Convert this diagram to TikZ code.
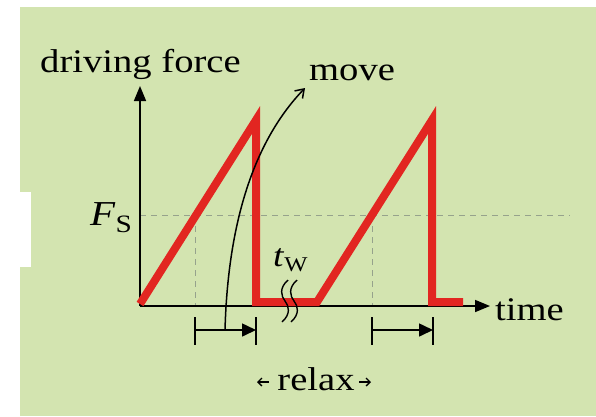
\documentclass[tikz,border=0pt]{standalone}
\usepackage{fontspec}
\usepackage{graphicx}
\setmainfont{Liberation Serif}
\usetikzlibrary{arrows.meta}
\definecolor{bg}{RGB}{211,228,176}
\definecolor{redline}{RGB}{226,38,33}
\definecolor{dashgray}{RGB}{150,162,140}
\newcommand\hs[1]{\scalebox{1.17}[1]{#1}}
\begin{document}
\begin{tikzpicture}[x=1pt,y=-1pt,
  lbl/.style={inner sep=0pt, anchor=base west, font=\fontsize{33}{35}\selectfont},
  axisline/.style={line width=1.6pt, -{Triangle[length=15pt,width=12pt]}},
  sig/.style={redline, line width=8pt, line join=miter, line cap=butt},
  guide/.style={dashgray, line width=1pt, dash pattern=on 6pt off 5pt},
  bar/.style={line width=1.6pt},
  interval/.style={line width=1.6pt, -{Triangle[length=14pt,width=13pt]}},
  movearrow/.style={line width=1.5pt, -{Straight Barb[length=8pt,width=11pt]}},
  smallarrow/.style={line width=1.3pt, -{Straight Barb[length=4pt,width=8pt]}},
  squig/.style={line width=1.4pt}
]
\useasboundingbox (0,0) rectangle (596,416);
\fill[white] (0,0) rectangle (596,416);
\fill[bg] (20,7) rectangle (596,416);
\fill[white] (0,192) rectangle (31,267);

% coordinates
\coordinate (O) at (140,306);
\coordinate (ytip) at (140,86);
\coordinate (xtip) at (490,306);
\coordinate (fsL) at (140,215);
\coordinate (fsR) at (570,215);
\coordinate (c1) at (195,215);
\coordinate (c1b) at (195,306);
\coordinate (c2) at (372,215);
\coordinate (c2b) at (372,306);

% guides
\draw[guide] (fsL) -- (fsR);
\draw[guide] (c1) -- (c1b);
\draw[guide] (c2) -- (c2b);

% axes
\draw[axisline] (O) -- (ytip);
\draw[axisline] (O) -- (xtip);

% signal
\coordinate (s0) at (140,304);
\coordinate (p1) at (256,120);
\coordinate (b1) at (256,302);
\coordinate (e1) at (317,302);
\coordinate (p2) at (432,120);
\coordinate (b2) at (432,302);
\coordinate (e2) at (463,302);
\draw[sig] (s0) -- (p1) -- (b1) -- (e1) -- (p2) -- (b2) -- (e2);

% interval markers
\coordinate (m1a) at (195,317); \coordinate (m1b) at (195,345);
\coordinate (m2a) at (256,317); \coordinate (m2b) at (256,345);
\coordinate (m1s) at (195,330); \coordinate (m1e) at (256,330);
\draw[bar] (m1a) -- (m1b);
\draw[bar] (m2a) -- (m2b);
\draw[interval] (m1s) -- (m1e);
\coordinate (n1a) at (372,317); \coordinate (n1b) at (372,345);
\coordinate (n2a) at (433,317); \coordinate (n2b) at (433,345);
\coordinate (n1s) at (372,330); \coordinate (n1e) at (433,330);
\draw[bar] (n1a) -- (n1b);
\draw[bar] (n2a) -- (n2b);
\draw[interval] (n1s) -- (n1e);

% move arrow
\coordinate (mvs) at (225,330);
\coordinate (mve) at (305,88);
\draw[movearrow] (mvs) .. controls (228,220) and (255,140) .. (mve);

% squiggles
\draw[squig] (288,280) .. controls (279,288) and (281,296) .. (285,301) .. controls (289,306) and (291,314) .. (282,322);
\draw[squig] (297,280) .. controls (288,288) and (290,296) .. (294,301) .. controls (298,306) and (300,314) .. (291,322);

% labels
\node[lbl] (df) at (40,72) {\hs{driving force}};
\node[lbl] (mv) at (309,80) {\hs{move}};
\node[lbl] (tm) at (495,320) {\hs{time}};
\node[lbl, font=\fontsize{35}{37}\selectfont] (fs) at (90,225) {\hs{\textit{F}\raisebox{-7pt}{\fontsize{25}{25}\selectfont S}}};
\node[lbl, font=\fontsize{32}{34}\selectfont] (tw) at (273,266) {\hs{\textit{t}\raisebox{-5pt}{\fontsize{21}{21}\selectfont W}}};
\node[lbl, anchor=base] (rl) at (316,390) {\hs{relax}};
\coordinate (rlL1) at (269,382); \coordinate (rlL2) at (257,382);
\coordinate (rlR1) at (359,382); \coordinate (rlR2) at (371,382);
\draw[smallarrow] (rlL1) -- (rlL2);
\draw[smallarrow] (rlR1) -- (rlR2);
\end{tikzpicture}
\end{document}
